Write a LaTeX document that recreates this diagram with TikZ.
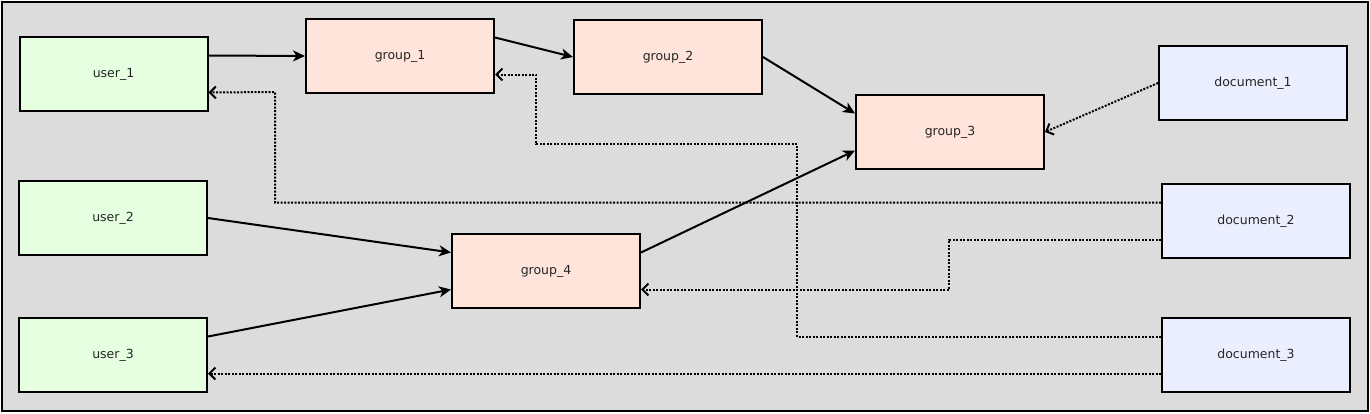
\documentclass[tikz,border=0pt]{standalone}
\usepackage{fontspec}
\setmainfont{DejaVu Sans}
\usetikzlibrary{arrows.meta}

\definecolor{usergreen}{RGB}{230,255,224}
\definecolor{grouprose}{RGB}{255,228,220}
\definecolor{docblue}{RGB}{235,238,255}
\definecolor{canvasgrey}{RGB}{220,220,220}

\begin{document}
\begin{tikzpicture}[x=1pt,y=-1pt,
    box/.style={draw, line width=2pt, minimum width=188pt, minimum height=74pt,
      inner sep=0pt, font=\fontsize{12.5}{15}\selectfont, text=black!85},
    user/.style={box, fill=usergreen},
    group/.style={box, fill=grouprose},
    doc/.style={box, fill=docblue},
    member/.style={line width=2pt, -{Stealth[length=12pt,width=11pt,inset=3.5pt]}},
    access/.style={line width=2pt, dash pattern=on 2pt off 1.5pt,
      -{Straight Barb[length=6pt,width=12pt]}}]
  \useasboundingbox (0,0) rectangle (1370,413);
  \draw [fill=canvasgrey, line width=2pt] (2,2) rectangle (1368,411);

  \node [user] (user_1) at (113.5,74) {user\_1};
  \node [user] (user_2) at (113,218) {user\_2};
  \node [user] (user_3) at (113,355) {user\_3};

  \node [group] (group_1) at (400,56) {group\_1};
  \node [group] (group_2) at (668,57) {group\_2};
  \node [group] (group_3) at (950,132) {group\_3};
  \node [group] (group_4) at (546,271) {group\_4};

  \node [doc] (document_1) at (1253,83) {document\_1};
  \node [doc] (document_2) at (1256,221) {document\_2};
  \node [doc] (document_3) at (1256,355) {document\_3};

  % membership
  \draw [member] ([yshift=18.5pt]user_1.east) -- (group_1.west);
  \draw [member] ([yshift=18.5pt]group_1.east) -- (group_2.west);
  \draw [member] (group_2.east) -- ([yshift=18.5pt]group_3.west);
  \draw [member] (user_2.east) -- ([yshift=18.5pt]group_4.west);
  \draw [member] ([yshift=18.5pt]user_3.east) -- ([yshift=-18.5pt]group_4.west);
  \draw [member] ([yshift=18.5pt]group_4.east) -- ([yshift=-18.5pt]group_3.west);

  % access
  \draw [access] (document_1.west) -- (group_3.east);
  \draw [access] ([yshift=18.5pt]document_2.west) -| (275,92) -- ([yshift=-18.5pt]user_1.east);
  \draw [access] ([yshift=-18.5pt]document_2.west) -| (949,289.5) -- ([yshift=-18.5pt]group_4.east);
  \draw [access] ([yshift=18.5pt]document_3.west) -| (797,144) -| (536,74.5) -- ([yshift=-18.5pt]group_1.east);
  \draw [access] ([yshift=-18.5pt]document_3.west) -- ([yshift=-18.5pt]user_3.east);
\end{tikzpicture}
\end{document}
